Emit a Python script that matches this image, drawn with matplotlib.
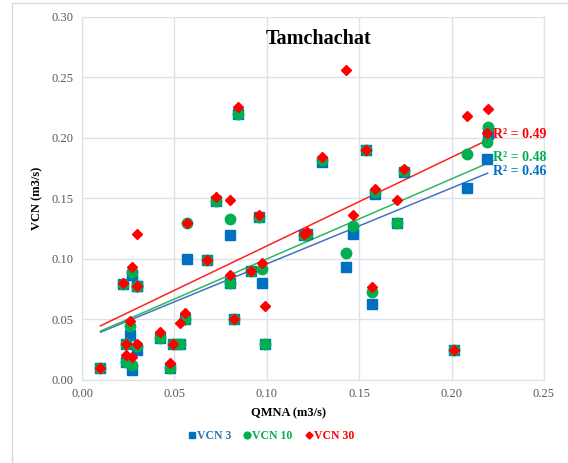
import numpy as np
import matplotlib
matplotlib.use('Agg')
import matplotlib.pyplot as plt
from matplotlib.patches import Rectangle

# QMNA par station et VCN correspondants (m3/s)
qmna = [0.010, 0.022, 0.024, 0.0236, 0.026, 0.027, 0.027, 0.030, 0.030, 0.030,
        0.042, 0.0476, 0.053, 0.049, 0.0557, 0.0566, 0.0675, 0.0725, 0.080, 0.080,
        0.082, 0.0845, 0.0915, 0.096, 0.0976, 0.099, 0.120, 0.122, 0.130, 0.1427,
        0.1468, 0.1537, 0.1568, 0.1585, 0.1707, 0.1744, 0.2015, 0.2085, 0.219, 0.2195]
vcn3 = [0.010, 0.079, 0.015, 0.030, 0.037, 0.008, 0.087, 0.025, 0.078, 0.078,
        0.035, 0.010, 0.030, 0.030, 0.050, 0.100, 0.099, 0.148, 0.120, 0.080,
        0.050, 0.220, 0.090, 0.135, 0.080, 0.030, 0.120, 0.121, 0.180, 0.093,
        0.121, 0.190, 0.063, 0.154, 0.130, 0.172, 0.025, 0.159, 0.183, 0.203]
vcn10 = [0.010, 0.079, 0.015, 0.030, 0.045, 0.012, 0.089, 0.028, 0.078, 0.078,
         0.035, 0.010, 0.030, 0.030, 0.050, 0.130, 0.099, 0.148, 0.133, 0.080,
         0.050, 0.220, 0.090, 0.135, 0.092, 0.030, 0.120, 0.121, 0.182, 0.105,
         0.127, 0.190, 0.073, 0.155, 0.130, 0.173, 0.025, 0.187, 0.197, 0.209]
vcn30 = [0.010, 0.080, 0.021, 0.030, 0.049, 0.019, 0.093, 0.030, 0.078, 0.121,
         0.040, 0.014, 0.047, 0.030, 0.055, 0.130, 0.099, 0.151, 0.149, 0.087,
         0.050, 0.226, 0.090, 0.136, 0.097, 0.061, 0.121, 0.122, 0.184, 0.256,
         0.136, 0.190, 0.077, 0.158, 0.149, 0.174, 0.025, 0.218, 0.204, 0.224]
r2_labels = ['R² = 0.46', 'R² = 0.48', 'R² = 0.49']

serif = ['Liberation Serif', 'DejaVu Serif']
plt.rcParams['font.family'] = serif

fig = plt.figure(figsize=(5.68, 4.63), dpi=100)
ax = fig.add_axes([0.1444, 0.1793, 0.8133, 0.784])

# bordure de la zone de graphique
fig.patches.append(Rectangle((12 / 568, -0.01), 1.2, 1 - 3 / 463 + 0.01, transform=fig.transFigure,
                             fill=False, edgecolor='#D9D9D9', lw=1))

series = [
    ('VCN 3', vcn3, 's', '#0070C0', 7.5, '#4472C4', '#2E75B6'),
    ('VCN 10', vcn10, 'o', '#00B050', 7.5, '#2EB85C', '#00B050'),
    ('VCN 30', vcn30, 'D', '#FF0000', 5.5, '#FF2020', '#FF0000'),
]
x = np.array(qmna)
xs = np.array([x.min(), x.max()])
label_y = [0.172, 0.1835, 0.2025]
for (name, y, m, c, ms, lc, tc), lab, ly in zip(series, r2_labels, label_y):
    ax.plot(x, y, linestyle='none', marker=m, color=c, ms=ms, mec=c, label=name, zorder=3)
    a, b = np.polyfit(x, y, 1)
    ax.plot(xs, a * xs + b, color=lc, lw=1.1, zorder=2)
    ax.text(0.2222, ly, lab, color=c, fontsize=10, fontweight='bold', va='center', ha='left')

ax.set_xlim(0, 0.25)
ax.set_ylim(0, 0.30)
ax.set_xticks(np.arange(0, 0.2501, 0.05))
ax.set_yticks(np.arange(0, 0.3001, 0.05))
ax.xaxis.set_major_formatter(plt.FormatStrFormatter('%.2f'))
ax.yaxis.set_major_formatter(plt.FormatStrFormatter('%.2f'))
ax.tick_params(length=0, labelsize=9, colors='#595959', pad=6)
ax.grid(True, color='#DDE2EA', lw=1)
ax.set_axisbelow(True)
for s in ax.spines.values():
    s.set_color('#DDE2EA')

ax.set_xlabel('QMNA (m3/s)', fontsize=9, fontweight='bold', labelpad=6)
ax.xaxis.set_label_coords(0.446, -0.075)
ax.set_ylabel('VCN (m3/s)', fontsize=9, fontweight='bold', labelpad=6)
ax.text(0.398, 0.925, 'Tamchachat', transform=ax.transAxes, fontsize=14.5, fontweight='bold')

leg = fig.legend(loc='center', bbox_to_anchor=(0.476, 0.058), ncol=3, frameon=False,
                 handletextpad=0.0, columnspacing=0.9, handlelength=0.9,
                 markerscale=0.65, prop={'family': serif, 'weight': 'bold', 'size': 8.5})
for t, s in zip(leg.get_texts(), series):
    t.set_color(s[6])

fig.savefig('out.png', dpi=100)
